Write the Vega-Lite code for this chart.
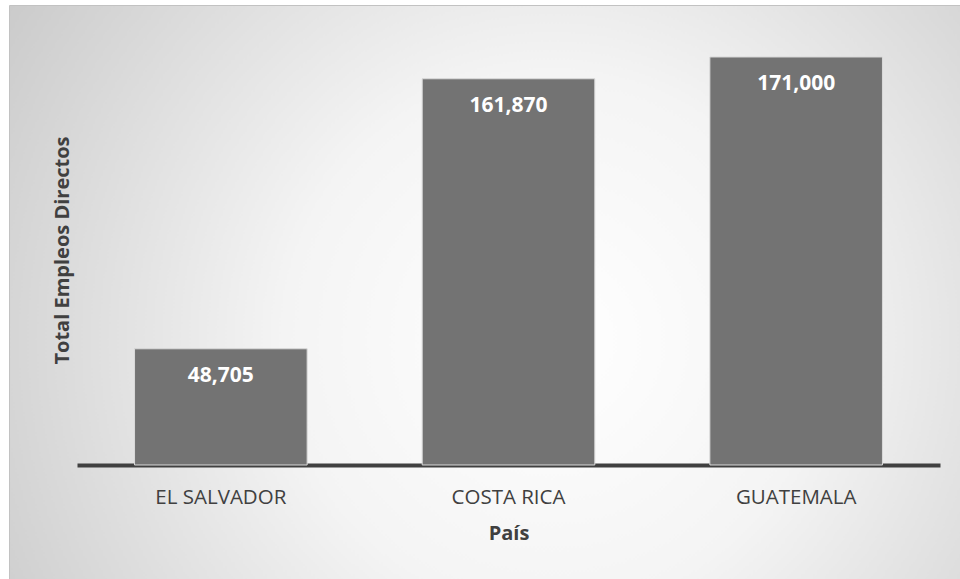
{
  "$schema": "https://vega.github.io/schema/vega-lite/v6.json",
  "autosize": "none",
  "width": 951,
  "height": 574,
  "padding": {"left": 9, "top": 5, "right": 0, "bottom": 0},
  "background": "#ffffff",
  "config": {
    "font": "Open Sans",
    "view": {
      "stroke": "#c2c2c2",
      "strokeWidth": 1,
      "fill": {
        "gradient": "radial",
        "x1": 0.57, "y1": 0.55, "r1": 0,
        "x2": 0.57, "y2": 0.55, "r2": 0.8,
        "stops": [
          {"offset": 0, "color": "#ffffff"},
          {"offset": 0.35, "color": "#f4f4f4"},
          {"offset": 1, "color": "#bdbdbd"}
        ]
      }
    }
  },
  "data": {
    "values": [
      {"pais": "EL SALVADOR", "empleos": 48705},
      {"pais": "COSTA RICA", "empleos": 161870},
      {"pais": "GUATEMALA", "empleos": 171000}
    ]
  },
  "encoding": {
    "x": {
      "field": "pais",
      "type": "nominal",
      "sort": null,
      "scale": {"range": [68, 931], "paddingInner": 0.4, "paddingOuter": 0.2},
      "axis": {
        "title": "País",
        "offset": -114,
        "domain": true,
        "domainColor": "#404040",
        "domainWidth": 4,
        "ticks": false,
        "tickSize": 0,
        "labelAngle": 0,
        "labelFontSize": 20.5,
        "labelColor": "#404040",
        "labelPadding": 22,
        "titleFontSize": 20,
        "titleFontWeight": "bold",
        "titleColor": "#404040",
        "titlePadding": 16,
        "grid": false
      }
    },
    "y": {
      "field": "empleos",
      "type": "quantitative",
      "scale": {"domain": [-47780, 192790], "nice": false, "zero": false},
      "axis": {
        "title": "Total Empleos Directos",
        "domain": false,
        "ticks": false,
        "labels": false,
        "grid": false,
        "titleFontSize": 20,
        "titleFontWeight": "bold",
        "titleColor": "#404040",
        "titleX": 53,
        "titleY": 245,
        "titleAngle": -90,
        "titleAlign": "center",
        "titleBaseline": "middle"
      }
    }
  },
  "layer": [
    {
      "mark": {"type": "bar", "color": "#737373", "stroke": "#d9d9d9", "strokeWidth": 1},
      "encoding": {"y2": {"datum": 0}}
    },
    {
      "mark": {"type": "text", "color": "#ffffff", "fontWeight": "bold", "fontSize": 21, "baseline": "middle", "dy": 27},
      "encoding": {"text": {"field": "empleos", "type": "quantitative", "format": ",d"}}
    }
  ]
}
